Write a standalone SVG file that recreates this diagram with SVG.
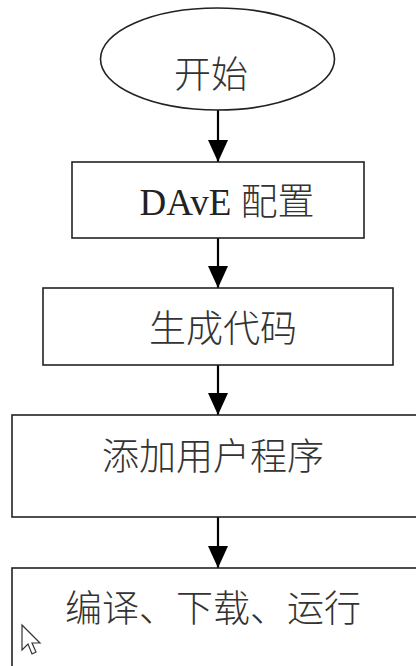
<svg xmlns="http://www.w3.org/2000/svg" width="416" height="666" viewBox="0 0 416 666">
<style>
.shape{fill:#fff;stroke:#222;stroke-width:1.6}
.conn{stroke:#000;stroke-width:2.2;fill:none}
.t{font-family:"Liberation Serif","Noto Sans CJK SC",serif;font-size:37px;fill:#222;text-anchor:middle}
.c{font-weight:300;fill:#333}
</style>
<defs>
<marker id="ah" markerWidth="22" markerHeight="20" refX="22" refY="10" orient="auto" markerUnits="userSpaceOnUse">
<path d="M0,0 L22,10 L0,20 Z" fill="#000"/>
</marker>
</defs>
<rect width="416" height="666" fill="#fff"/>
<g id="connectors">
<line class="conn" x1="218" y1="110" x2="218" y2="162" marker-end="url(#ah)"/>
<line class="conn" x1="218" y1="238" x2="218" y2="288" marker-end="url(#ah)"/>
<line class="conn" x1="218" y1="365" x2="218" y2="415" marker-end="url(#ah)"/>
<line class="conn" x1="218" y1="517" x2="218" y2="568" marker-end="url(#ah)"/>
</g>
<g id="start">
<ellipse class="shape" cx="217.5" cy="59" rx="117" ry="51"/>
<text class="t c" x="211" y="88">开始</text>
</g>
<g id="dave">
<rect class="shape" x="72" y="162" width="292" height="76"/>
<text class="t" x="227" y="215" font-size="38">DAvE <tspan class="c">配置</tspan></text>
</g>
<g id="gen">
<rect class="shape" x="43" y="288" width="350" height="77"/>
<text class="t c" x="223" y="342">生成代码</text>
</g>
<g id="user">
<rect class="shape" x="12" y="415" width="410" height="102"/>
<text class="t c" x="213" y="470">添加用户程序</text>
</g>
<g id="build">
<rect class="shape" x="12" y="568" width="410" height="110"/>
<text class="t c" x="213" y="622">编译、下载、运行</text>
</g>
<path d="M22,625 L22,650 L28,644 L32,654 L36,652 L32,643 L40,643 Z" fill="#fff" stroke="#333" stroke-width="1.2"/>
</svg>
